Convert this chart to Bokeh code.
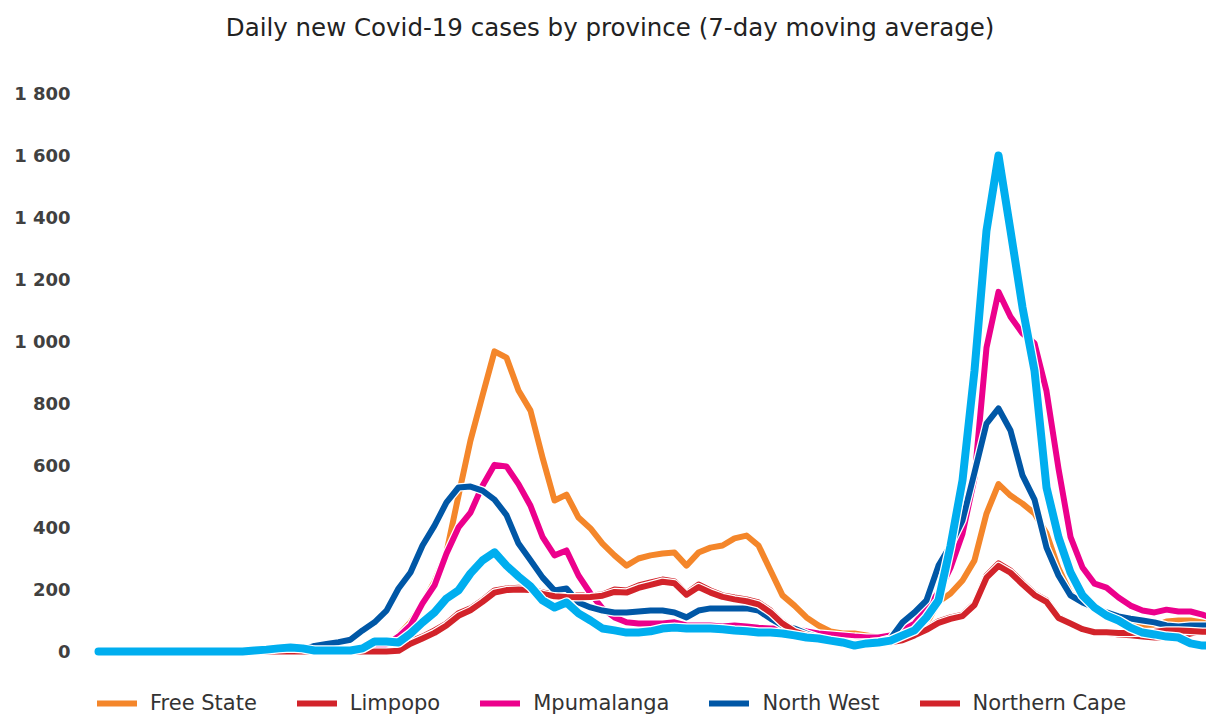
from bokeh.plotting import figure
from bokeh.models import Range1d, FixedTicker, Legend, LegendItem
from bokeh.core.properties import value
from bokeh.embed import file_html
from bokeh.resources import INLINE

# day index (3-day sampling of the 7-day moving average)
days = list(range(0, 282, 3))

free_state = [0, 0, 3, 3, 3, 2, 0, 0, 0, 0, 0, 0, 0, 0, 0, 0, 0, 0, 0, 0, 0, 0,
              3, 8, 15, 52, 94, 155, 225, 320, 503, 681, 826, 968, 948, 842, 777, 626, 487, 506,
              432, 397, 348, 310, 277, 300, 310, 316, 319, 277, 319, 335, 342, 365, 374, 342, 261,
              181, 148, 110, 84, 65, 58, 58, 52, 45, 48, 55, 65, 90, 160, 187, 229, 294, 445, 540,
              503, 477, 445, 381, 268, 187, 155, 139, 116, 106, 97, 81, 81, 97, 100, 100, 94, 90]

limpopo = [0, 0, 0, 0, 0, 0, 0, 0, 0, 0, 0, 0, 0, 0, 0, 0, 0, 0, 0, 0, 0, 0, 0, 0, 0,
           3, 32, 48, 68, 90, 123, 139, 165, 197, 203, 206, 203, 190, 184, 181, 181, 181, 184,
           200, 197, 213, 223, 232, 226, 187, 216, 197, 181, 174, 168, 158, 132, 94, 68, 55, 45,
           35, 32, 29, 26, 26, 32, 39, 55, 74, 97, 110, 119, 155, 245, 284, 261, 223, 187, 165,
           112, 90, 74, 61, 61, 55, 52, 48, 45, 45, 48, 58, 68, 70]

mpumalanga = [0, 0, 0, 0, 0, 0, 0, 0, 0, 0, 0, 0, 0, 0, 0, 0, 0, 2, 3, 3, 3, 3, 5, 10, 22,
              48, 84, 155, 213, 316, 400, 448, 535, 602, 597, 540, 470, 370, 310, 326, 245, 187,
              139, 110, 94, 90, 90, 90, 94, 84, 84, 84, 81, 84, 81, 77, 74, 74, 71, 65, 58, 55,
              52, 48, 45, 45, 52, 68, 90, 139, 190, 270, 380, 560, 980, 1160, 1080, 1026, 994, 840,
              590, 370, 271, 219, 206, 174, 148, 132, 126, 135, 129, 129, 119, 105]

north_west = [0, 0, 0, 0, 0, 0, 0, 0, 0, 0, 0, 0, 0, 0, 0, 0, 0, 5, 18, 24, 30, 38, 68, 94,
              132, 203, 255, 342, 406, 481, 529, 532, 519, 490, 440, 348, 294, 239, 197, 203, 158,
              142, 132, 126, 126, 129, 132, 132, 126, 110, 132, 139, 139, 139, 139, 132, 106, 84,
              74, 58, 45, 35, 32, 29, 29, 32, 42, 94, 126, 165, 277, 342, 423, 577, 735, 784, 713,
              568, 490, 335, 245, 181, 158, 142, 126, 113, 106, 100, 94, 84, 81, 84, 84, 84]

northern_cape = [0, 0, 0, 0, 0, 0, 0, 0, 0, 0, 0, 0, 0, 0, 0, 0, 0, 0, 0, 0, 0, 0, 0, 0, 0,
                 2, 25, 42, 60, 84, 115, 133, 160, 190, 198, 200, 198, 186, 178, 176, 175, 176,
                 180, 192, 190, 205, 215, 225, 220, 183, 208, 190, 176, 168, 162, 152, 126, 90,
                 65, 52, 42, 33, 30, 27, 24, 24, 30, 36, 52, 70, 92, 105, 114, 150, 238, 276, 254,
                 217, 182, 160, 108, 90, 72, 62, 62, 60, 60, 62, 64, 68, 68, 66, 64, 64]

sixth_province = [0, 0, 0, 0, 0, 0, 0, 0, 0, 0, 0, 0, 0, 3, 6, 10, 13, 10, 3, 3, 3, 3, 10,
                  32, 32, 29, 58, 94, 126, 171, 197, 252, 294, 320, 277, 242, 210, 165, 142, 158,
                  123, 100, 74, 68, 61, 61, 65, 74, 77, 74, 74, 74, 72, 68, 65, 61, 61, 58, 52,
                  45, 42, 35, 29, 19, 26, 29, 35, 52, 68, 110, 165, 340, 552, 906, 1358, 1600,
                  1358, 1110, 906, 529, 368, 255, 181, 142, 116, 100, 77, 61, 55, 48, 45, 26, 19, 19]

series_names = ["Free State", "Limpopo", "Mpumalanga", "North West", "Northern Cape", None]
series_values = [free_state, limpopo, mpumalanga, north_west, northern_cape, sixth_province]
series_colors = ["#F4862A", "#D2232A", "#EC008C", "#0057A6", "#D2232A", "#00AEEF"]
series_widths = [6, 6, 6, 6, 6, 8]

y_ticks = [0, 200, 400, 600, 800, 1000, 1200, 1400, 1600, 1800]
y_tick_labels = ["0", "200", "400", "600", "800", "1 000", "1 200", "1 400", "1 600", "1 800"]

title_text = "Daily new Covid-19 cases by province (7-day moving average)"

# frame spans the full canvas height: 0 -> 651px, 0.31 px per case
p = figure(width=1206, height=715, output_backend="svg", toolbar_location=None,
           x_range=Range1d(-2.75, 277), y_range=Range1d(-206.5, 2100),
           x_axis_location=None, min_border_left=87, min_border_right=0,
           min_border_top=0, min_border_bottom=0)
p.title.visible = False

p.xgrid.visible = False
p.ygrid.visible = False
p.outline_line_color = None
p.background_fill_color = "white"
p.border_fill_color = "white"

p.yaxis.ticker = FixedTicker(ticks=y_ticks)
p.yaxis.major_label_overrides = {t: l for t, l in zip(y_ticks, y_tick_labels)}
p.yaxis.axis_line_color = None
p.yaxis.major_tick_line_color = None
p.yaxis.minor_tick_line_color = None
p.yaxis.major_tick_out = 0
p.yaxis.major_tick_in = 0
p.yaxis.major_label_standoff = 17
p.yaxis.major_label_text_font = "DejaVu Sans"
p.yaxis.major_label_text_font_style = "bold"
p.yaxis.major_label_text_font_size = "18px"
p.yaxis.major_label_text_color = "#404040"

# chart title, drawn in the empty band above the 1 800 gridline level
p.text(x=[127.9], y=[2013], text=[title_text], text_align="center",
       text_baseline="middle", text_font=value("DejaVu Sans"),
       text_font_size="24.5px", text_color="#222222")

items = []
for name, vals, col, w in zip(series_names, series_values, series_colors, series_widths):
    p.line(days, vals, line_color="white", line_width=w + 2.5,
           line_join="round", line_cap="round")
    r = p.line(days, vals, line_color=col, line_width=w,
               line_join="round", line_cap="round")
    if name is not None:
        items.append(LegendItem(label=name, renderers=[r]))

legend = Legend(items=items, orientation="horizontal", location=(10, 0),
                label_text_font="DejaVu Sans", label_text_font_size="21px",
                label_text_color="#333333", glyph_width=40, glyph_height=20,
                label_standoff=13, spacing=40, padding=0, margin=0,
                border_line_color=None, background_fill_alpha=0)
p.add_layout(legend)

open("out.html", "w").write(file_html(p, INLINE))
